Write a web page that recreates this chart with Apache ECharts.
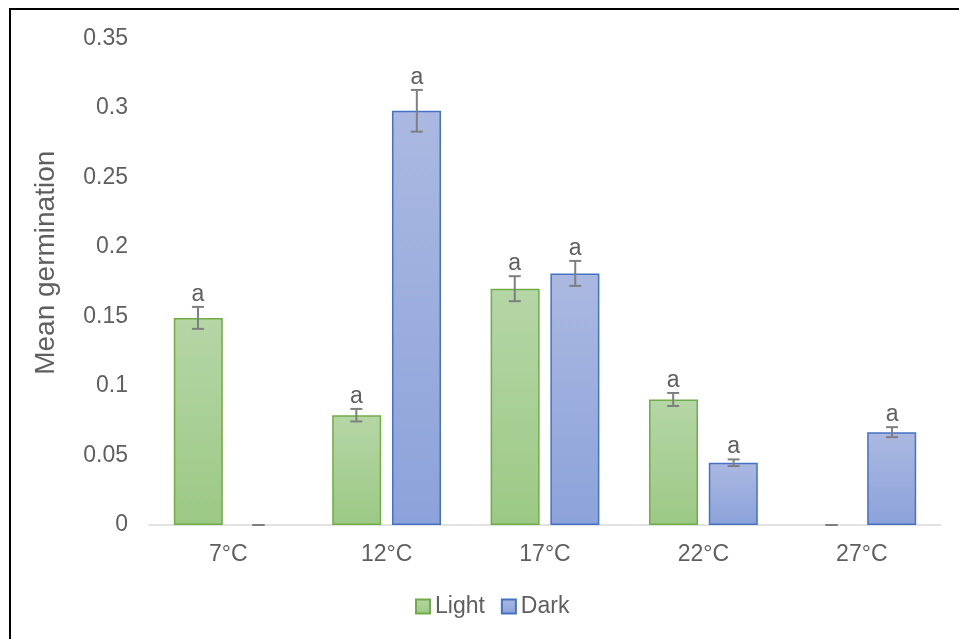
<!DOCTYPE html>
<html>
<head>
<meta charset="utf-8">
<script src="https://cdn.jsdelivr.net/npm/echarts@6/dist/echarts.min.js"></script>
<style>
html,body{margin:0;padding:0;background:#fff;}
#c{width:959px;height:639px;}
</style>
</head>
<body>
<div id="c"></div>
<script>
const categories = ['7°C', '12°C', '17°C', '22°C', '27°C'];
const lightValues = [0.149, 0.079, 0.170, 0.0903, 0];
const darkValues = [0, 0.298, 0.181, 0.0448, 0.0668];
const lightErrors = [0.0079, 0.0045, 0.009, 0.0047, 0];
const darkErrors = [0, 0.015, 0.009, 0.0024, 0.0036];
const lightLetters = ['a', 'a', 'a', 'a', ''];
const darkLetters = ['', 'a', 'a', 'a', 'a'];
const yTicks = ['0', '0.05', '0.1', '0.15', '0.2', '0.25', '0.3', '0.35'];

const FONT = '"Liberation Sans", Arial, sans-serif';
const TXT = '#5f5f5f';

function errSeries(name, values, errors, letters, side) {
  const data = values.map((v, i) => [i, v, errors[i], letters[i]]);
  return {
    type: 'custom',
    name: name + '-err',
    z: 10,
    silent: true,
    legendHoverLink: false,
    data: data,
    renderItem: function (params, api) {
      const i = api.value(0), v = api.value(1), e = api.value(2);
      const letter = data[params.dataIndex][3];
      const band = api.size([1, 0])[0];
      const off = side * band * 0.1909;
      const c = api.coord([i, v]);
      const x = c[0] + off;
      const top = api.coord([i, v + e])[1];
      const bot = api.coord([i, v - e])[1];
      const cap = 6;
      const st = { stroke: '#7f7f7f', lineWidth: 2 };
      const children = [
        { type: 'line', shape: { x1: x, y1: top, x2: x, y2: bot }, style: st },
        { type: 'line', shape: { x1: x - cap, y1: top, x2: x + cap, y2: top }, style: st },
        { type: 'line', shape: { x1: x - cap, y1: bot, x2: x + cap, y2: bot }, style: st }
      ];
      if (letter) {
        children.push({
          type: 'text',
          style: {
            x: x, y: top - 1, text: letter,
            fill: TXT, font: '23px ' + FONT,
            align: 'center', verticalAlign: 'bottom'
          }
        });
      }
      return { type: 'group', children: children };
    }
  };
}

function barData(values) {
  return values.map(v => v === 0 ? { value: v, itemStyle: { borderWidth: 0 } } : v);
}

const chart = echarts.init(document.getElementById('c'));
chart.setOption({
  animation: false,
  backgroundColor: '#fff',
  graphic: [{
    type: 'rect',
    shape: { x: 10, y: 9, width: 1000, height: 1000 },
    style: { fill: 'none', stroke: '#000', lineWidth: 2 },
    z: 100
  }],
  grid: { left: 149, right: 18, top: 38.5, bottom: 114 },
  legend: {
    data: ['Light', 'Dark'],
    left: 410, top: 590,
    itemWidth: 14, itemHeight: 14, itemGap: 16,
    icon: 'rect',
    textStyle: { color: TXT, fontSize: 23, fontFamily: FONT }
  },
  xAxis: {
    type: 'category',
    data: categories,
    axisLine: { lineStyle: { color: '#d9d9d9', width: 1.5 } },
    axisTick: { show: false },
    axisLabel: { color: TXT, fontSize: 23, fontFamily: FONT, margin: 18 }
  },
  yAxis: {
    type: 'value',
    min: 0, max: 0.35, interval: 0.05,
    name: 'Mean germination',
    nameLocation: 'middle',
    nameGap: 89,
    nameTextStyle: { color: TXT, fontSize: 28, fontFamily: FONT, padding: [0, 0, 0, 38] },
    axisLine: { show: false },
    axisTick: { show: false },
    splitLine: { show: false },
    axisLabel: {
      color: TXT, fontSize: 23, fontFamily: FONT, margin: 21,
      formatter: function (v) { return yTicks[Math.round(v / 0.05)]; }
    }
  },
  series: [
    {
      name: 'Light', type: 'bar', data: barData(lightValues),
      barWidth: 49, barGap: '22%',
      itemStyle: {
        color: new echarts.graphic.LinearGradient(0, 0, 0, 1, [
          { offset: 0, color: '#b5d6a6' }, { offset: 1, color: '#9cc985' }
        ]),
        borderColor: '#70ad47', borderWidth: 1.5
      }
    },
    {
      name: 'Dark', type: 'bar', data: barData(darkValues),
      barWidth: 49, barGap: '22%',
      itemStyle: {
        color: new echarts.graphic.LinearGradient(0, 0, 0, 1, [
          { offset: 0, color: '#abb9e1' }, { offset: 1, color: '#8ca2da' }
        ]),
        borderColor: '#4472c4', borderWidth: 1.5
      }
    },
    errSeries('Light', lightValues, lightErrors, lightLetters, -1),
    errSeries('Dark', darkValues, darkErrors, darkLetters, 1)
  ]
});
</script>
</body>
</html>
